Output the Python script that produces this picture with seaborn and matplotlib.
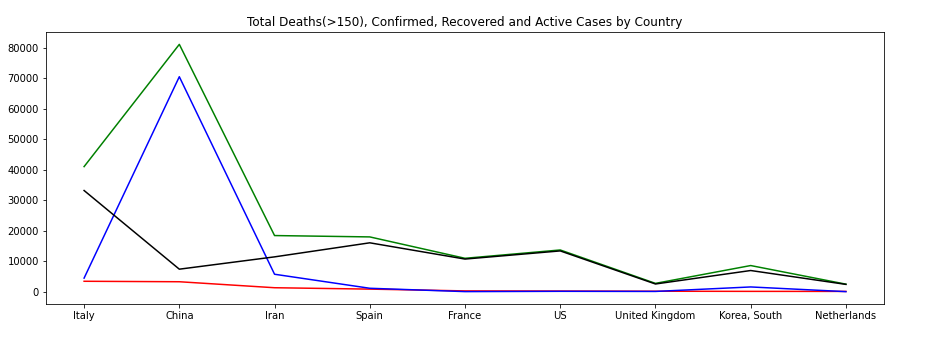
import matplotlib
matplotlib.use("Agg")
import matplotlib.pyplot as plt
import seaborn as sns
import pandas as pd

countries = ["Italy", "China", "Iran", "Spain", "France", "US",
             "United Kingdom", "Korea, South", "Netherlands"]
deaths = [3405, 3249, 1284, 830, 243, 200, 138, 91, 76]
confirmed = [41035, 81156, 18407, 17963, 10947, 13677, 2716, 8565, 2460]
recovered = [4440, 70535, 5710, 1107, 12, 108, 67, 1540, 2]
active = [33190, 7372, 11413, 16026, 10692, 13369, 2511, 6934, 2382]

plt.rcParams["font.family"] = ["DejaVu Sans"]
fig = plt.figure(figsize=(926 / 72, 341 / 72), dpi=72)
ax = fig.add_axes([46 / 926, 37 / 341, (884 - 46) / 926, (304 - 32) / 341])

df = pd.DataFrame({"Country": countries, "Deaths": deaths, "Confirmed": confirmed,
                   "Recovered": recovered, "Active": active})
for col, color in [("Deaths", "red"), ("Confirmed", "green"),
                   ("Recovered", "blue"), ("Active", "black")]:
    sns.lineplot(data=df, x="Country", y=col, color=color, sort=False,
                 ax=ax, linewidth=1.5)

ax.set_xlabel("")
ax.set_ylabel("")
ax.set_title("Total Deaths(>150), Confirmed, Recovered and Active Cases by Country",
             fontsize=12)
ax.tick_params(labelsize=10)
fig.savefig("out.png", dpi=72)
